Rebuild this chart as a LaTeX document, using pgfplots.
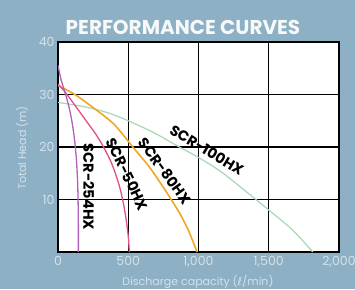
\documentclass[border=0pt]{standalone}
\usepackage{pgfplots}
\pgfplotsset{compat=1.18}
\usepackage{fontspec}
\setmainfont{Poppins}
\newfontfamily\dejavu{DejaVu Sans}
\definecolor{bg}{HTML}{8DB0C4}
\definecolor{lbl}{HTML}{D3E2EB}
\definecolor{cpurple}{HTML}{B062B8}
\definecolor{cpink}{HTML}{E0508C}
\definecolor{corange}{HTML}{F2A624}
\definecolor{cgreen}{HTML}{A6D8B4}
\begin{document}
\begin{tikzpicture}[x=1pt,y=1pt]
\useasboundingbox (0,0) rectangle (355,289);
\fill[bg] (0,0) rectangle (355,289);
\node[font=\fontsize{20}{20}\selectfont\bfseries, text=white!92!bg] at (183,262) {PERFORMANCE CURVES};
\begin{axis}[
  at={(58pt,37pt)}, anchor=south west,
  scale only axis, width=281pt, height=210pt,
  xmin=0, xmax=2000, ymin=0, ymax=40,
  xtick={0,500,1000,1500,2000},
  xticklabels={0,500,{1,000},{1,500},{2,000}},
  ytick={10,20,30,40},
  grid=major,
  grid style={black, line width=1.1pt},
  axis line style={black, line width=1.3pt},
  axis background/.style={fill=white},
  major tick length=0pt,
  tick label style={font=\fontsize{12.5}{12.5}\selectfont, text=lbl},
  /pgf/number format/assume math mode=true,
  xticklabel style={yshift=-1pt},
  yticklabel style={xshift=0pt},
  clip=true,
]
\addplot[cgreen, line width=1.2pt, smooth] coordinates {
(0,28.5) (200,27.6) (400,26.1) (662,23) (850,20.2) (1000,18) (1165,15.2) (1381,10.6) (1500,8) (1669,4.2) (1813,0)};
\addplot[corange, line width=1.6pt, smooth] coordinates {
(0,31.7) (120,30) (250,27.5) (400,24.3) (532,20) (650,16.2) (750,12.3) (806,10) (870,7.2) (930,4) (990,0)};
\addplot[cpink, line width=1.3pt, smooth] coordinates {
(0,32) (50,30.5) (100,28.7) (200,25) (270,22.4) (324,20) (380,17) (430,13.2) (460,10) (485,6.2) (500,3) (508,0)};
\addplot[cpurple, line width=1.3pt, smooth] coordinates {
(0,35.6) (20,33) (45,30.8) (70,28.5) (95,25.5) (115,22) (130,18) (140,13) (144,8) (145,4) (145,0)};
\node[rotate=-90, font=\fontsize{14.5}{14.5}\selectfont\bfseries] at (axis cs:218,12.4) {SCR-254HX};
\node[rotate=-64, font=\fontsize{14.5}{14.5}\selectfont\bfseries] at (axis cs:492,14.8) {SCR-50HX};
\node[rotate=-54, font=\fontsize{14.5}{14.5}\selectfont\bfseries] at (axis cs:762,15.4) {SCR-80HX};
\node[rotate=-31, font=\fontsize{14.5}{14.5}\selectfont\bfseries] at (axis cs:1060,19.4) {SCR-100HX};
\end{axis}
\node[font=\fontsize{11}{11}\selectfont, text=lbl] at (198,7) {Discharge capacity ({\dejavu ℓ}/min)};
\node[rotate=90, font=\fontsize{11}{11}\selectfont, text=lbl] at (22,141) {Total Head (m)};
\end{tikzpicture}
\end{document}
